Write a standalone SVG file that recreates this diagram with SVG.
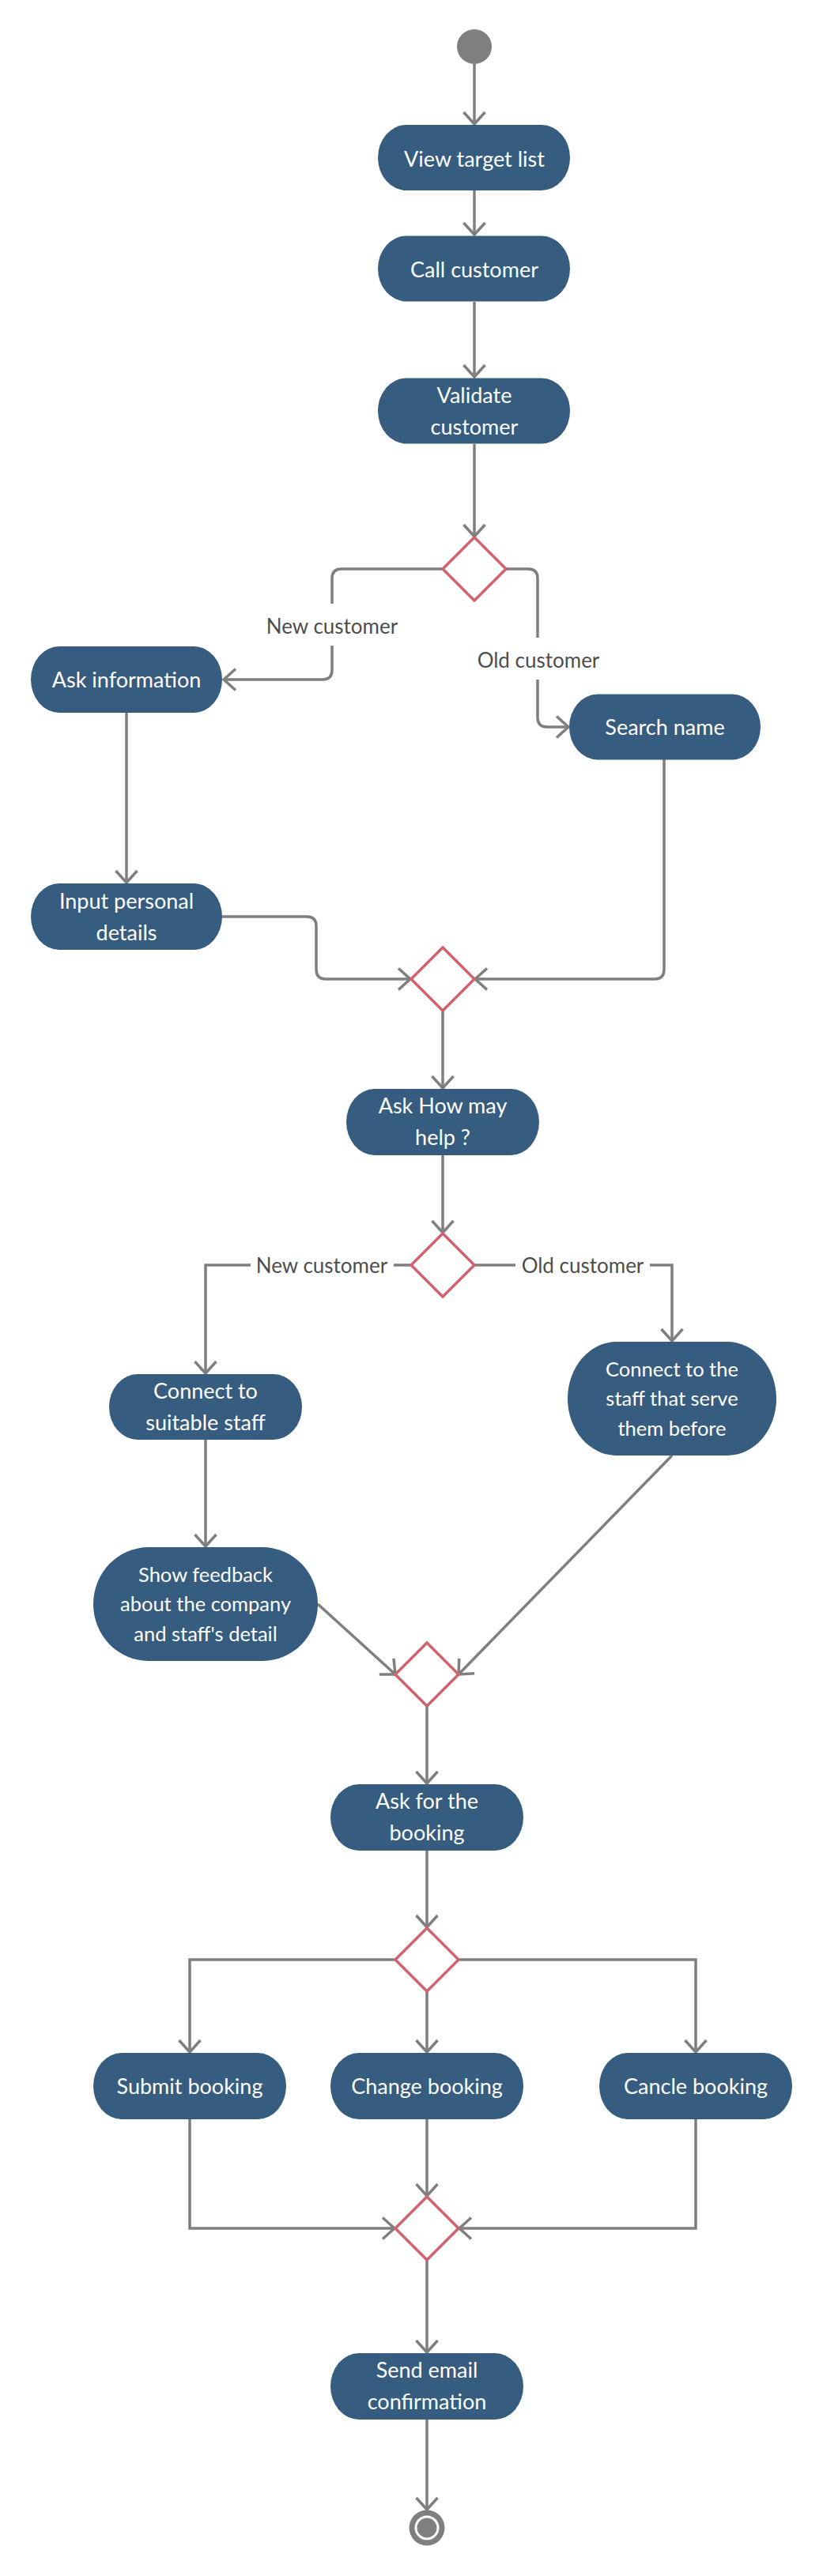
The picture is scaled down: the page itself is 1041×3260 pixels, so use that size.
<svg xmlns="http://www.w3.org/2000/svg" width="1041" height="3260" viewBox="0 0 1041 3260">
<style>
.node{fill:#365C7F;}
.nt{font-family:Lato,"Liberation Sans",sans-serif;font-size:27px;fill:#ffffff;text-anchor:middle;}
.nt3{font-size:25.5px;}
.lbl{font-family:Lato,"Liberation Sans",sans-serif;font-size:26px;fill:#4D4D4D;text-anchor:middle;}
.conn{fill:none;stroke:#7F7F7F;stroke-width:3.5;marker-end:url(#arr);}
.dec{fill:#ffffff;stroke:#D2626C;stroke-width:3.5;}
.bg{fill:#ffffff;}
</style>
<defs>
<marker id="arr" markerUnits="userSpaceOnUse" viewBox="-18 -16 20 32" refX="0" refY="0" markerWidth="20" markerHeight="32" orient="auto">
<path d="M-15,-13.5 L0,0 L-15,13.5" fill="none" stroke="#7F7F7F" stroke-width="3.5"/>
</marker>
</defs>
<rect width="1041" height="3260" fill="#ffffff"/>

<g id="connectors">
<path class="conn" d="M600 81 V157"/>
<path class="conn" d="M600 241 V297"/>
<path class="conn" d="M600 382 V477"/>
<path class="conn" d="M600 562 V679"/>
<path class="conn" d="M560 720 H432 Q420 720 420 732 V848 Q420 860 408 860 H283"/>
<path class="conn" d="M640 720 H668 Q680 720 680 732 V908 Q680 920 692 920 H719"/>
<path class="conn" d="M160 902 V1117"/>
<path class="conn" d="M281 1160 H388 Q400 1160 400 1172 V1227 Q400 1239 412 1239 H519"/>
<path class="conn" d="M840 961 V1227 Q840 1239 828 1239 H601"/>
<path class="conn" d="M560 1279 V1377"/>
<path class="conn" d="M560 1462 V1560"/>
<path class="conn" d="M520 1601 H260 V1738"/>
<path class="conn" d="M600 1601 H850 V1697"/>
<path class="conn" d="M260 1822 V1957"/>
<path class="conn" d="M402 2030 L500 2119"/>
<path class="conn" d="M850 1842 L580 2119"/>
<path class="conn" d="M540 2159 V2257"/>
<path class="conn" d="M540 2342 V2439"/>
<path class="conn" d="M500 2480 H240 V2597"/>
<path class="conn" d="M540 2520 V2597"/>
<path class="conn" d="M580 2480 H880 V2597"/>
<path class="conn" d="M240 2682 V2820 H499"/>
<path class="conn" d="M540 2682 V2779"/>
<path class="conn" d="M880 2682 V2820 H581"/>
<path class="conn" d="M540 2860 V2977"/>
<path class="conn" d="M540 3062 V3176"/>
<rect class="bg" x="330" y="764" width="180" height="53"/>
<text class="lbl" x="420" y="801.5">New customer</text>
<rect class="bg" x="598" y="807" width="166" height="53"/>
<text class="lbl" x="681" y="845">Old customer</text>
<rect class="bg" x="317" y="1588" width="181" height="28"/>
<text class="lbl" x="407" y="1611">New customer</text>
<rect class="bg" x="652" y="1588" width="170" height="28"/>
<text class="lbl" x="737" y="1611">Old customer</text>
</g>

<g id="start"><circle cx="600" cy="59" r="22" fill="#7F7F7F"/></g>

<g id="view-target-list"><rect class="node" x="478" y="158" width="243" height="83" rx="36" ry="41.5"/><text class="nt" x="600" y="211">View target list</text></g>
<g id="call-customer"><rect class="node" x="478" y="298.5" width="243" height="83" rx="36" ry="41.5"/><text class="nt" x="600" y="351">Call customer</text></g>
<g id="validate-customer"><rect class="node" x="478" y="478.5" width="243" height="83" rx="36" ry="41.5"/><text class="nt" x="600" y="510">Validate</text><text class="nt" x="600" y="550">customer</text></g>

<g id="decision-1"><polygon class="dec" points="600,680 640,720 600,760 560,720"/></g>

<g id="ask-information"><rect class="node" x="39" y="818" width="242" height="84" rx="36" ry="42"/><text class="nt" x="160" y="870">Ask information</text></g>
<g id="search-name"><rect class="node" x="720" y="878.5" width="242" height="83" rx="36" ry="41.5"/><text class="nt" x="841" y="930">Search name</text></g>
<g id="input-personal-details"><rect class="node" x="39" y="1118" width="242" height="84" rx="36" ry="42"/><text class="nt" x="160" y="1149.5">Input personal</text><text class="nt" x="160" y="1189.5">details</text></g>

<g id="decision-2"><polygon class="dec" points="560,1199 600,1239 560,1279 520,1239"/></g>

<g id="ask-how-may-help"><rect class="node" x="438" y="1378" width="244" height="84" rx="36" ry="42"/><text class="nt" x="560" y="1409">Ask How may</text><text class="nt" x="560" y="1449">help ?</text></g>

<g id="decision-3"><polygon class="dec" points="560,1561 600,1601 560,1641 520,1601"/></g>

<g id="connect-suitable-staff"><rect class="node" x="138" y="1739" width="244" height="83" rx="36" ry="41.5"/><text class="nt" x="260" y="1770">Connect to</text><text class="nt" x="260" y="1810">suitable staff</text></g>
<g id="connect-staff-before"><rect class="node" x="718" y="1698" width="264" height="144" rx="62" ry="72"/><text class="nt nt3" x="850" y="1741.5">Connect to the</text><text class="nt nt3" x="850" y="1779">staff that serve</text><text class="nt nt3" x="850" y="1816.5">them before</text></g>
<g id="show-feedback"><rect class="node" x="118" y="1958" width="284" height="144" rx="70" ry="72"/><text class="nt nt3" x="260" y="2001.5">Show feedback</text><text class="nt nt3" x="260" y="2039">about the company</text><text class="nt nt3" x="260" y="2076.5">and staff's detail</text></g>

<g id="decision-4"><polygon class="dec" points="540,2079 580,2119 540,2159 500,2119"/></g>

<g id="ask-for-booking"><rect class="node" x="418" y="2258" width="244" height="84" rx="36" ry="42"/><text class="nt" x="540" y="2289">Ask for the</text><text class="nt" x="540" y="2329">booking</text></g>

<g id="decision-5"><polygon class="dec" points="540,2440 580,2480 540,2520 500,2480"/></g>

<g id="submit-booking"><rect class="node" x="118" y="2598" width="244" height="84" rx="36" ry="42"/><text class="nt" x="240" y="2650">Submit booking</text></g>
<g id="change-booking"><rect class="node" x="418" y="2598" width="244" height="84" rx="36" ry="42"/><text class="nt" x="540" y="2650">Change booking</text></g>
<g id="cancle-booking"><rect class="node" x="758" y="2598" width="244" height="84" rx="36" ry="42"/><text class="nt" x="880" y="2650">Cancle booking</text></g>

<g id="decision-6"><polygon class="dec" points="540,2780 580,2820 540,2860 500,2820"/></g>

<g id="send-email-confirmation"><rect class="node" x="418" y="2978" width="244" height="84" rx="36" ry="42"/><text class="nt" x="540" y="3009">Send email</text><text class="nt" x="540" y="3049">confirmation</text></g>

<g id="end"><circle cx="540" cy="3199" r="22.5" fill="#7F7F7F"/><circle cx="540" cy="3199" r="15.5" fill="#ffffff"/><circle cx="540" cy="3199" r="12.5" fill="#7F7F7F"/></g>
</svg>
